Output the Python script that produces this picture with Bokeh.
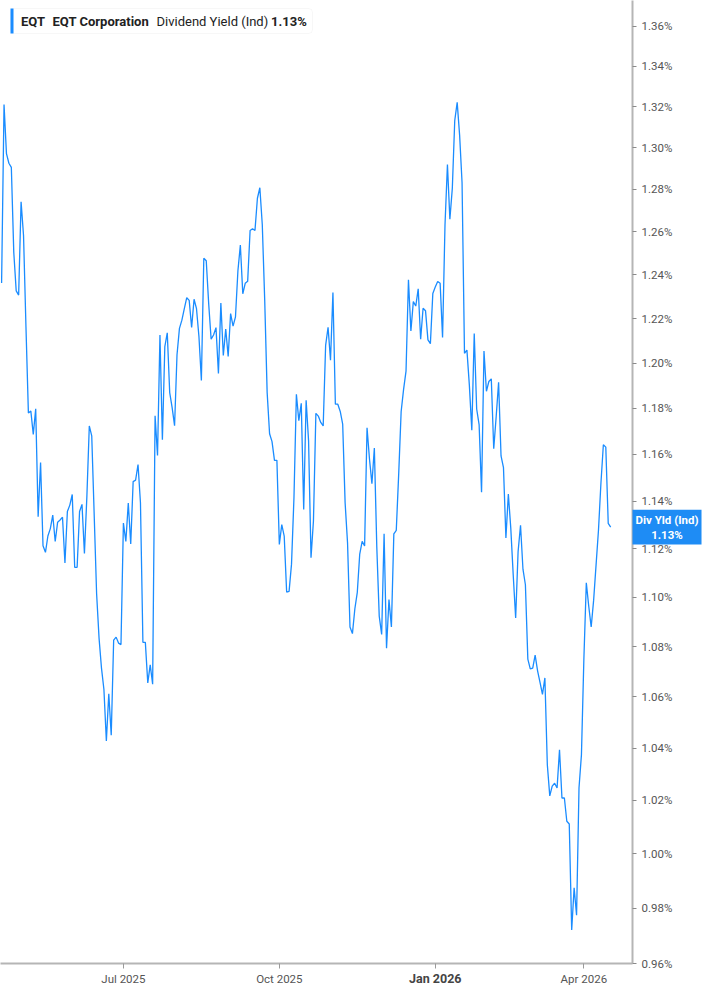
import math
import pandas as pd
from bokeh.plotting import figure
from bokeh.models import Range1d, FixedTicker, PrintfTickFormatter, Label, BoxAnnotation
from bokeh.embed import file_html
from bokeh.resources import INLINE

# ---------------- data ----------------
ticker_symbol = "EQT"
company_name = "EQT Corporation"
metric_name = "Dividend Yield (Ind)"
badge_name = "Div Yld (Ind)"
latest_text = "1.13%"

start_date = "2025-04-17"
market_holidays = ["2025-04-18", "2025-05-26", "2025-06-19", "2025-07-04", "2025-09-01",
                   "2025-11-27", "2025-12-25", "2026-01-01", "2026-01-19", "2026-02-16",
                   "2026-04-03"]

# dividend yield, percent, one value per trading day
yield_pct = [
    1.2363, 1.3210, 1.2971, 1.2925, 1.2905, 1.2504, 1.2326, 1.2307, 1.2741, 1.2584,
    1.2163, 1.1779, 1.1788, 1.1686, 1.1798, 1.1334, 1.1565, 1.1212, 1.1185, 1.1253,
    1.1284, 1.1341, 1.1230, 1.1311, 1.1320, 1.1332, 1.1141, 1.1356, 1.1383, 1.1428,
    1.1123, 1.1123, 1.1356, 1.1386, 1.1180, 1.1419, 1.1723, 1.1680, 1.1343, 1.1014,
    1.0834, 1.0714, 1.0629, 1.0428, 1.0612, 1.0450, 1.0826, 1.0838, 1.0814, 1.0808,
    1.1307, 1.1230, 1.1392, 1.1220, 1.1483, 1.1489, 1.1556, 1.1392, 1.0817, 1.0817,
    1.0655, 1.0727, 1.0650, 1.1767, 1.1595, 1.2126, 1.1663, 1.2074, 1.2136, 1.1869,
    1.1803, 1.1724, 1.2037, 1.2156, 1.2193, 1.2245, 1.2295, 1.2283, 1.2160, 1.2288,
    1.2245, 1.2119, 1.1923, 1.2477, 1.2465, 1.2268, 1.2107, 1.2126, 1.2159, 1.1954,
    1.2271, 1.2034, 1.2153, 1.2030, 1.2223, 1.2166, 1.2208, 1.2419, 1.2538, 1.2313,
    1.2361, 1.2370, 1.2606, 1.2614, 1.2606, 1.2758, 1.2808, 1.2634, 1.2283, 1.1869,
    1.1689, 1.1655, 1.1574, 1.1574, 1.1218, 1.1301, 1.1253, 1.1021, 1.1024, 1.1136,
    1.1413, 1.1862, 1.1746, 1.1822, 1.1365, 1.1835, 1.1659, 1.1163, 1.1316, 1.1778,
    1.1766, 1.1738, 1.1723, 1.2079, 1.2161, 1.2013, 1.2319, 1.1818, 1.1818, 1.1786,
    1.1731, 1.1393, 1.1224, 1.0879, 1.0852, 1.0953, 1.1020, 1.1178, 1.1231, 1.1211,
    1.1715, 1.1580, 1.1474, 1.1627, 1.1208, 1.0923, 1.0849, 1.1262, 1.0793, 1.0990,
    1.0879, 1.1262, 1.1277, 1.1517, 1.1786, 1.1883, 1.1964, 1.2377, 1.2144, 1.2277,
    1.2257, 1.2336, 1.2107, 1.2247, 1.2236, 1.2104, 1.2087, 1.2314, 1.2344, 1.2369,
    1.2361, 1.2115, 1.2633, 1.2919, 1.2659, 1.2805, 1.3132, 1.3221, 1.3061, 1.2832,
    1.2044, 1.2058, 1.1901, 1.1704, 1.2132, 1.1797, 1.1729, 1.1438, 1.2054, 1.1875,
    1.1918, 1.1930, 1.1624, 1.1763, 1.1915, 1.1593, 1.1543, 1.1245, 1.1430, 1.1286,
    1.1091, 1.0915, 1.1188, 1.1298, 1.1115, 1.1051, 1.0750, 1.0711, 1.0714, 1.0766,
    1.0703, 1.0657, 1.0610, 1.0675, 1.0336, 1.0217, 1.0254, 1.0265, 1.0247, 1.0394,
    1.0209, 1.0209, 1.0121, 1.0111, 0.9720, 0.9874, 0.9774, 1.0247, 1.0374, 1.0750,
    1.1059, 1.0963, 1.0879, 1.0987, 1.1132, 1.1278, 1.1476, 1.1641, 1.1631, 1.1306,
    1.1290,
]

y_ticks = [0.96, 0.98, 1.00, 1.02, 1.04, 1.06, 1.08, 1.10, 1.12, 1.14, 1.16, 1.18,
           1.20, 1.22, 1.24, 1.26, 1.28, 1.30, 1.32, 1.34, 1.36]
tick_months = ["2025-07-01", "2025-10-01", "2026-01-01", "2026-04-01"]
bold_month = "2026-01-01"

# ---------------- derived ----------------
dates = pd.bdate_range(start=start_date, periods=len(yield_pct), freq="C",
                       holidays=market_holidays)
xs = list(range(len(yield_pct)))
month_idx = []
month_lbl = {}
bold_idx = None
bold_lbl = ""
for m in tick_months:
    ts = pd.Timestamp(m)
    i = int((dates >= ts).argmax())
    month_idx.append(i)
    lbl = ts.strftime("%b %Y")
    if m == bold_month:
        bold_idx, bold_lbl = i, lbl
        month_lbl[i] = ""
    else:
        month_lbl[i] = lbl

BLUE = "#1a8cff"
FW, FH = 632, 963
RIGHT, BOTTOM = 69, 26
X0, X1 = -0.45, 258.96
Y0, Y1 = 0.96, 1.3731

p = figure(frame_width=FW, frame_height=FH, y_axis_type="log", y_axis_location="right",
           x_range=Range1d(X0, X1), y_range=Range1d(Y0, Y1),
           toolbar_location=None, output_backend="svg",
           min_border_left=0, min_border_top=0, min_border_right=RIGHT,
           min_border_bottom=BOTTOM)
p.outline_line_color = None
p.grid.visible = False
p.background_fill_color = "white"

p.line(xs, yield_pct, line_color=BLUE, line_width=1.3)

ya = p.yaxis[0]
ya.ticker = FixedTicker(ticks=y_ticks)
ya.formatter = PrintfTickFormatter(format="%.2f%%")
ya.axis_line_color = "#b5b5b5"
ya.axis_line_width = 2
ya.major_tick_in = 0
ya.major_tick_out = 4
ya.major_tick_line_color = "#8a8a8a"
ya.minor_tick_line_color = None
ya.major_label_text_font = "Roboto"
ya.major_label_text_font_size = "11.5px"
ya.major_label_text_color = "#555555"
ya.major_label_standoff = 5

xa = p.xaxis[0]
xa.ticker = FixedTicker(ticks=month_idx)
xa.major_label_overrides = month_lbl
xa.axis_line_color = "#b5b5b5"
xa.axis_line_width = 2
xa.major_tick_in = 0
xa.major_tick_out = 5
xa.major_tick_line_color = "#9a9a9a"
xa.minor_tick_line_color = None
xa.major_label_text_font = "Roboto"
xa.major_label_text_font_size = "11.5px"
xa.major_label_text_color = "#555555"
xa.major_label_standoff = 3

# positions just outside the frame, expressed in the plot's own data units
badge_x = X0 + (FW + RIGHT / 2) / FW * (X1 - X0)        # middle of the right axis strip
label_y = Y0 * (Y1 / Y0) ** (-14.5 / FH)               # 14.5 px below the frame

# bold year-start tick label, placed in the bottom side panel
p.add_layout(Label(x=bold_idx, y=label_y, x_units="data", y_units="data",
                   text=bold_lbl, text_align="center", text_baseline="middle",
                   text_font="Roboto", text_font_style="bold", text_font_size="12.5px",
                   text_color="#444444"), "below")

# current value badge, placed in the right side panel
p.add_layout(Label(x=badge_x, y=yield_pct[-1], x_units="data", y_units="data",
                   text=badge_name + "\n" + latest_text,
                   text_align="center", text_baseline="middle", text_font="Roboto",
                   text_font_style="bold", text_font_size="11.5px", text_color="white",
                   text_line_height=1.05, background_fill_color="#1e8cf5",
                   padding=dict(left=3, right=3, top=3, bottom=3)), "right")

# legend box
p.add_layout(BoxAnnotation(left=10, right=312, top=FH - 8, bottom=FH - 33,
                           left_units="screen", right_units="screen",
                           top_units="screen", bottom_units="screen",
                           fill_color="white", fill_alpha=1.0,
                           line_color="#e3e3e3", line_width=1, border_radius=4))
p.add_layout(BoxAnnotation(left=10, right=13, top=FH - 8, bottom=FH - 33,
                           left_units="screen", right_units="screen",
                           top_units="screen", bottom_units="screen",
                           fill_color=BLUE, fill_alpha=1.0, line_color=None))
legend_parts = [(20.5, ticker_symbol, "bold"), (52, company_name, "bold"),
                (156, metric_name, "normal"), (270.5, latest_text, "bold")]
for lx, txt, style in legend_parts:
    p.add_layout(Label(x=lx, y=FH - 20.5, x_units="screen", y_units="screen", text=txt,
                       text_baseline="middle", text_align="left", text_font="Roboto",
                       text_font_style=style, text_font_size="13px", text_color="#222222"))

open("out.html", "w").write(file_html(p, INLINE))
